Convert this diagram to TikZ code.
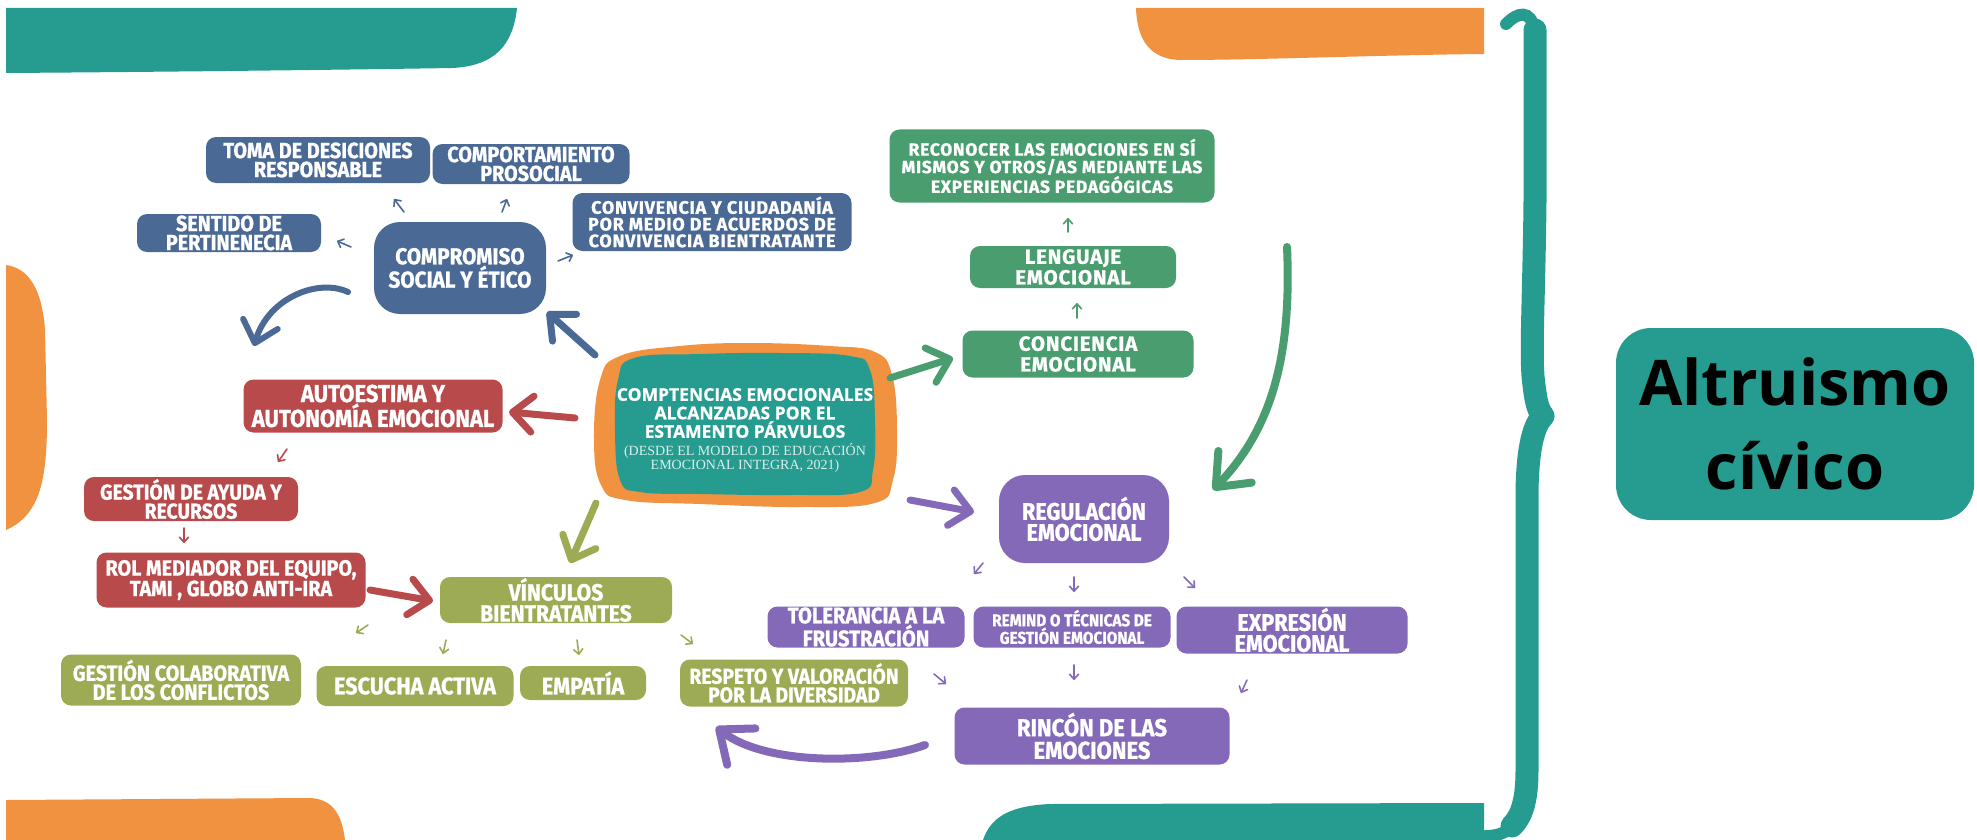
\documentclass[tikz,border=0pt]{standalone}
\usepackage{fontspec}
\usetikzlibrary{arrows.meta}
\newfontfamily\boxf{Fira Sans}[FakeStretch=0.9,FakeBold=1]
\newfontfamily\widef{Fira Sans}[FakeStretch=1.0,LetterSpace=4,FakeBold=1]
\newfontfamily\openf{Open Sans}
\newfontfamily\openb{Open Sans}[FakeBold=0.8]
\newfontfamily\serf{Liberation Serif}
\definecolor{cblue}{HTML}{4A6A95}
\definecolor{cred}{HTML}{B94A4B}
\definecolor{colive}{HTML}{9CAB54}
\definecolor{cgreen}{HTML}{4A9D6E}
\definecolor{cpurple}{HTML}{8569B9}
\definecolor{cteal}{HTML}{269C91}
\definecolor{corange}{HTML}{F0923F}
\definecolor{csub}{HTML}{DDEFEA}
\tikzset{
  bx/.style={rounded corners=10pt, align=center, text=white, inner sep=0pt},
  sz/.style 2 args={minimum width=#1pt, minimum height=#2pt},
  f/.style 2 args={font=\boxf\bfseries\fontsize{#1}{#2}\selectfont},
  fw/.style 2 args={font=\widef\bfseries\fontsize{#1}{#2}\selectfont},
  big/.style={line width=7pt, line cap=round, line join=round, -{Straight Barb[length=20pt,width=36pt,round]}},
  bigc/.style={line width=8pt, line cap=round, line join=round, -{Straight Barb[length=28pt,width=46pt,round]}},
  sm/.style={line width=1.6pt, line cap=round, -{Straight Barb[length=5pt,width=9pt,round]}},
}
\begin{document}
\begin{tikzpicture}[x=1pt,y=-1pt]
\fill[white] (0,0) rectangle (1977,840);
\useasboundingbox (0,0) rectangle (1977,840);
% decorative bands
\fill[cteal] (6,8) -- (517,8) .. controls (513,45) and (495,66) .. (452,68) .. controls (330,70) and (150,72) .. (6,73) -- cycle;
\fill[corange] (1136,8) -- (1484,8) -- (1484,54) .. controls (1380,55) and (1260,60) .. (1180,60) .. controls (1150,59) and (1137,40) .. (1136,8) -- cycle;
\fill[corange] (6,265) .. controls (28,268) and (42,288) .. (45,330) -- (47,420) .. controls (47,480) and (40,515) .. (6,530) -- cycle;
\fill[corange] (6,800) -- (310,798) .. controls (333,799) and (342,815) .. (345,840) -- (6,840) -- cycle;
\fill[cteal] (983,840) .. controls (990,820) and (1005,806) .. (1050,804) -- (1484,803) -- (1484,840) -- cycle;
% brace
\draw[cteal, line width=12pt, line cap=round] (1506,24) .. controls (1518,12) and (1530,9) .. (1535,30);
\draw[cteal, line width=23pt, line cap=round, line join=round] (1535,30) -- (1535,200) .. controls (1534,300) and (1530,360) .. (1534,385) .. controls (1536,402) and (1538,410) .. (1543,416) .. controls (1534,425) and (1528,445) .. (1527,490) -- (1527,770) .. controls (1527,800) and (1522,816) .. (1512,826);
\draw[cteal, line width=12pt, line cap=round] (1512,826) .. controls (1505,834) and (1495,836) .. (1486,836);
% result node
\node[fill=cteal, rounded corners=35pt, sz={358}{192}, align=center, inner sep=0pt, text=black, font=\openf\bfseries\fontsize{63}{84}\selectfont] (alt) at (1795,424) {Altruismo\\cívico};
% central node
\fill[corange] plot[smooth cycle, tension=0.7] coordinates {(600,380) (620,356) (680,346) (750,343) (830,346) (875,352) (892,375) (897,430) (893,480) (875,503) (800,507) (700,504) (625,500) (601,485) (594,440)};
\fill[cteal] plot[smooth cycle, tension=0.7] coordinates {(618,380) (634,358) (700,354) (780,353) (850,356) (870,370) (875,420) (873,470) (860,492) (790,495) (700,494) (640,492) (620,480) (615,430)};
\node[text=white, align=center, inner sep=0pt, font=\openb\bfseries\fontsize{17.5}{18.5}\selectfont] (cen) at (745,413) {COMPTENCIAS EMOCIONALES\\ALCANZADAS POR EL\\ESTAMENTO PÁRVULOS};
\node[text=csub, align=center, inner sep=0pt, font=\serf\fontsize{14}{13.5}\selectfont] (sub) at (745,458) {(DESDE EL MODELO DE EDUCACIÓN\\EMOCIONAL INTEGRA, 2021)};
% blue nodes
\node[bx, fill=cblue, sz={224}{46}, f={22}{19}] (toma) at (318,160) {TOMA DE DESICIONES\\RESPONSABLE};
\node[bx, fill=cblue, sz={197}{40}, f={22}{19}] (comp) at (531,164) {COMPORTAMIENTO\\PROSOCIAL};
\node[bx, fill=cblue, sz={184}{38}, f={22}{19}] (sent) at (229,233) {SENTIDO DE\\PERTINENECIA};
\node[bx, fill=cblue, rounded corners=26pt, sz={172}{92}, f={23}{20}] (compr) at (460,268) {COMPROMISO\\SOCIAL Y ÉTICO};
\node[bx, fill=cblue, sz={279}{58}, fw={18}{16.7}] (conv) at (712,222) {CONVIVENCIA Y CIUDADANÍA\\POR MEDIO DE ACUERDOS DE\\CONVIVENCIA BIENTRATANTE};
% red nodes
\node[bx, fill=cred, sz={259}{53}, f={24.5}{21.5}] (auto) at (373,406) {AUTOESTIMA Y\\AUTONOMÍA EMOCIONAL};
\node[bx, fill=cred, sz={214}{44}, f={21.5}{19}] (ayuda) at (191,499) {GESTIÓN DE AYUDA Y\\RECURSOS};
\node[bx, fill=cred, sz={269}{55}, f={22}{19}] (rol) at (231,580) {ROL MEDIADOR DEL EQUIPO,\\TAMI , GLOBO ANTI-IRA};
% olive nodes
\node[bx, fill=colive, sz={232}{46}, f={23.5}{21}] (vinc) at (556,600) {VÍNCULOS\\BIENTRATANTES};
\node[bx, fill=colive, sz={240}{51}, f={22}{19}] (colab) at (181,680) {GESTIÓN COLABORATIVA\\DE LOS CONFLICTOS};
\node[bx, fill=colive, sz={197}{40}, f={24}{20}] (escucha) at (415,686) {ESCUCHA ACTIVA};
\node[bx, fill=colive, sz={126}{34}, f={24}{20}] (empatia) at (583,683) {EMPATÍA};
\node[bx, fill=colive, sz={228}{47}, f={21.5}{18.7}] (respeto) at (794,683) {RESPETO Y VALORACIÓN\\POR LA DIVERSIDAD};
% green nodes
\node[bx, fill=cgreen, sz={325}{73}, fw={17.5}{17.5}] (reco) at (1052,166) {RECONOCER LAS EMOCIONES EN SÍ\\MISMOS Y OTROS/AS MEDIANTE LAS\\EXPERIENCIAS PEDAGÓGICAS};
\node[bx, fill=cgreen, sz={206}{42}, fw={20.5}{20.7}] (leng) at (1073,267) {LENGUAJE\\EMOCIONAL};
\node[bx, fill=cgreen, sz={231}{47}, fw={20.5}{20.7}] (conc) at (1078,354) {CONCIENCIA\\EMOCIONAL};
% purple nodes
\node[bx, fill=cpurple, rounded corners=26pt, sz={170}{88}, f={24}{21}] (regul) at (1084,519) {REGULACIÓN\\EMOCIONAL};
\node[bx, fill=cpurple, sz={197}{41}, f={22.5}{19.5}] (toler) at (866,627) {TOLERANCIA A LA\\FRUSTRACIÓN};
\node[bx, fill=cpurple, sz={197}{41}, f={17}{14.8}] (remind) at (1072,627) {REMIND O TÉCNICAS DE\\GESTIÓN EMOCIONAL};
\node[bx, fill=cpurple, sz={231}{47}, f={24}{21}] (expr) at (1292,630) {EXPRESIÓN\\EMOCIONAL};
\node[bx, fill=cpurple, sz={275}{57}, f={24.5}{22.7}] (rincon) at (1092,736) {RINCÓN DE LAS\\EMOCIONES};
% connector end points
\coordinate (a1s) at (595,355); \coordinate (a1e) at (547,312);
\coordinate (a2s) at (348,292); \coordinate (a2e) at (254,346);
\coordinate (a3s) at (575,418); \coordinate (a3e) at (509,412);
\coordinate (a4s) at (370,590); \coordinate (a4e) at (433,601);
\coordinate (a5s) at (596,503); \coordinate (a5e) at (570,563);
\coordinate (a6s) at (890,378); \coordinate (a6e) at (953,358);
\coordinate (a7s) at (910,500); \coordinate (a7e) at (974,512);
\coordinate (a8s) at (1287,247); \coordinate (a8e) at (1213,490);
\coordinate (a9s) at (925,745); \coordinate (a9e) at (716,727);
% big arrows
\draw[big, cblue] (a1s) -- (a1e);
\draw[big, cblue, line width=6pt] (a2s) .. controls (318,278) and (268,298) .. (a2e);
\draw[big, cred] (a3s) -- (a3e);
\draw[big, cred] (a4s) -- (a4e);
\draw[big, colive] (a5s) -- (a5e);
\draw[big, cgreen] (a6s) -- (a6e);
\draw[big, cpurple] (a7s) -- (a7e);
\draw[bigc, cgreen] (a8s) .. controls (1292,360) and (1270,430) .. (a8e);
\draw[bigc, cpurple] (a9s) .. controls (870,765) and (765,765) .. (a9e);
% small arrows
\coordinate (s1s) at (404,212); \coordinate (s1e) at (394,199);
\coordinate (s2s) at (502,212); \coordinate (s2e) at (507,199);
\coordinate (s3s) at (351,247); \coordinate (s3e) at (337,241);
\coordinate (s4s) at (558,261); \coordinate (s4e) at (573,255);
\coordinate (s5s) at (287,449); \coordinate (s5e) at (278,462);
\coordinate (s6s) at (184,528); \coordinate (s6e) at (184,543);
\coordinate (s7s) at (368,625); \coordinate (s7e) at (356,633);
\coordinate (s8s) at (446,640); \coordinate (s8e) at (443,654);
\coordinate (s9s) at (577,640); \coordinate (s9e) at (579,655);
\coordinate (s10s) at (681,635); \coordinate (s10e) at (693,644);
\coordinate (s11s) at (1068,232); \coordinate (s11e) at (1068,218);
\coordinate (s12s) at (1077,318); \coordinate (s12e) at (1077,303);
\coordinate (s13s) at (983,563); \coordinate (s13e) at (974,574);
\coordinate (s14s) at (1074,577); \coordinate (s14e) at (1074,592);
\coordinate (s15s) at (1184,577); \coordinate (s15e) at (1195,588);
\coordinate (s16s) at (934,674); \coordinate (s16e) at (946,684);
\coordinate (s17s) at (1074,665); \coordinate (s17e) at (1074,680);
\coordinate (s18s) at (1247,680); \coordinate (s18e) at (1241,693);
\draw[sm, cblue] (s1s) -- (s1e);
\draw[sm, cblue] (s2s) -- (s2e);
\draw[sm, cblue] (s3s) -- (s3e);
\draw[sm, cblue] (s4s) -- (s4e);
\draw[sm, cred] (s5s) -- (s5e);
\draw[sm, cred] (s6s) -- (s6e);
\draw[sm, colive] (s7s) -- (s7e);
\draw[sm, colive] (s8s) -- (s8e);
\draw[sm, colive] (s9s) -- (s9e);
\draw[sm, colive] (s10s) -- (s10e);
\draw[sm, cgreen] (s11s) -- (s11e);
\draw[sm, cgreen] (s12s) -- (s12e);
\draw[sm, cpurple] (s13s) -- (s13e);
\draw[sm, cpurple] (s14s) -- (s14e);
\draw[sm, cpurple] (s15s) -- (s15e);
\draw[sm, cpurple] (s16s) -- (s16e);
\draw[sm, cpurple] (s17s) -- (s17e);
\draw[sm, cpurple] (s18s) -- (s18e);
\end{tikzpicture}
\end{document}
